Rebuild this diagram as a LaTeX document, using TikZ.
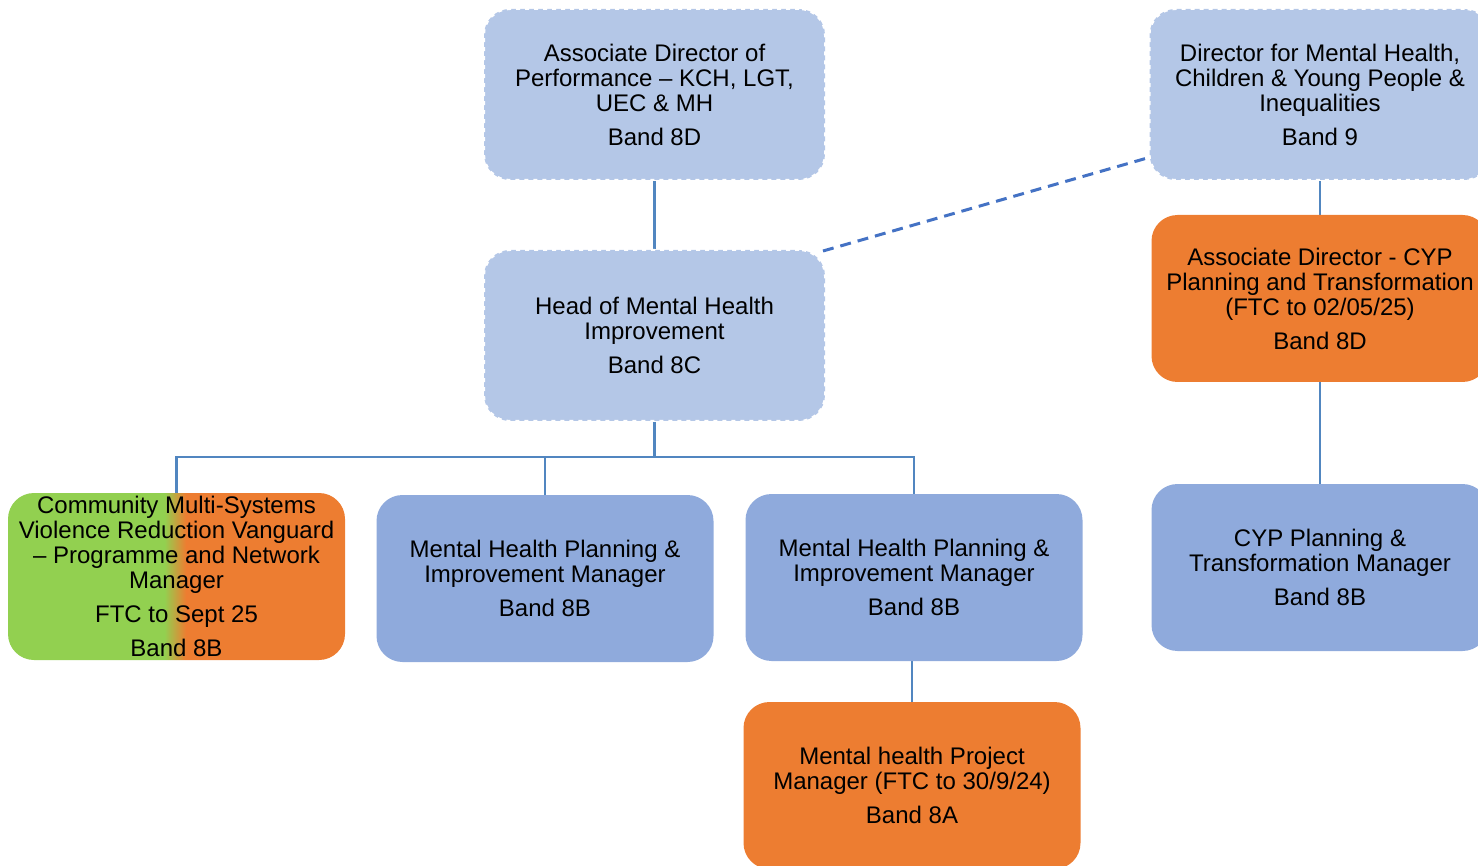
\documentclass[tikz,border=0pt]{standalone}
\usepackage{fontspec}
\setmainfont{Liberation Sans}
\usetikzlibrary{calc,backgrounds}
\definecolor{lblue}{HTML}{B4C7E7}
\definecolor{mblue}{HTML}{8FAADC}
\definecolor{orng}{HTML}{ED7D31}
\definecolor{grn}{HTML}{92D050}
\definecolor{conncol}{HTML}{5186C0}
\definecolor{dashcol}{HTML}{4472C4}
\pgfdeclarehorizontalshading{greenorange}{100bp}{color(0bp)=(grn); color(48.2bp)=(grn); color(51.4bp)=(orng); color(100bp)=(orng)}
\begin{document}
\begin{tikzpicture}[x=1pt,y=-1pt,
  box/.style={rounded corners=26pt, minimum width=337pt, minimum height=167pt, inner sep=0pt, align=center,
    font=\fontsize{24}{25}\selectfont, text=black},
  lbox/.style={box, fill=lblue, draw=white, line width=2pt, dash pattern=on 4pt off 5pt, minimum width=341pt, minimum height=171pt},
  mbox/.style={box, fill=mblue},
  obox/.style={box, fill=orng},
  conn/.style={draw=conncol, line width=2.5pt},
  dconn/.style={draw=dashcol, line width=3pt, dash pattern=on 11pt off 7pt}]
\clip (0,0) rectangle (1478,866);
\node[lbox] (ad) at (654.5,94.5) {Associate Director of\\Performance -- KCH, LGT,\\UEC \& MH\\[9pt]Band 8D};
\node[lbox] (dir) at (1320,94.5) {Director for Mental Health,\\Children \& Young People \&\\Inequalities\\[9pt]Band 9};
\node[lbox] (head) at (654.5,335.5) {Head of Mental Health\\Improvement\\[9pt]Band 8C};
\node[obox] (adcyp) at (1320,298.5) {Associate Director - CYP\\Planning and Transformation\\(FTC to 02/05/25)\\[9pt]Band 8D};
\node[box, shading=greenorange] (cm) at (176.5,576.5) {Community Multi-Systems\\Violence Reduction Vanguard\\-- Programme and Network\\Manager\\[9pt]FTC to Sept 25\\[9pt]Band 8B};
\node[mbox] (mh1) at (545,578.5) {Mental Health Planning \&\\Improvement Manager\\[9pt]Band 8B};
\node[mbox] (mh2) at (914,577.5) {Mental Health Planning \&\\Improvement Manager\\[9pt]Band 8B};
\node[mbox] (cypm) at (1320,567.5) {CYP Planning \&\\Transformation Manager\\[9pt]Band 8B};
\node[obox] (pm) at (912,785.5) {Mental health Project\\Manager (FTC to 30/9/24)\\[9pt]Band 8A};
\coordinate (bus) at (0,457);
\coordinate (dirend) at ($(dir.south west)!0.135!(dir.north west)$);
\begin{scope}[on background layer]
\draw[conn] (ad.south) -- (head.north);
\draw[conn] (head.south) -- (head.south |- bus) -| (cm.north);
\draw[conn] (head.south |- bus) -| (mh1.north);
\draw[conn] (head.south |- bus) -| (mh2.north);
\draw[conn] (dir.south) -- (adcyp.north);
\draw[conn] (adcyp.south) -- (cypm.north);
\draw[conn] (mh2.south -| pm.north) -- (pm.north);
\draw[dconn] ($(head.north east)+(-3,2)$) -- (dirend);
\end{scope}
\end{tikzpicture}
\end{document}
